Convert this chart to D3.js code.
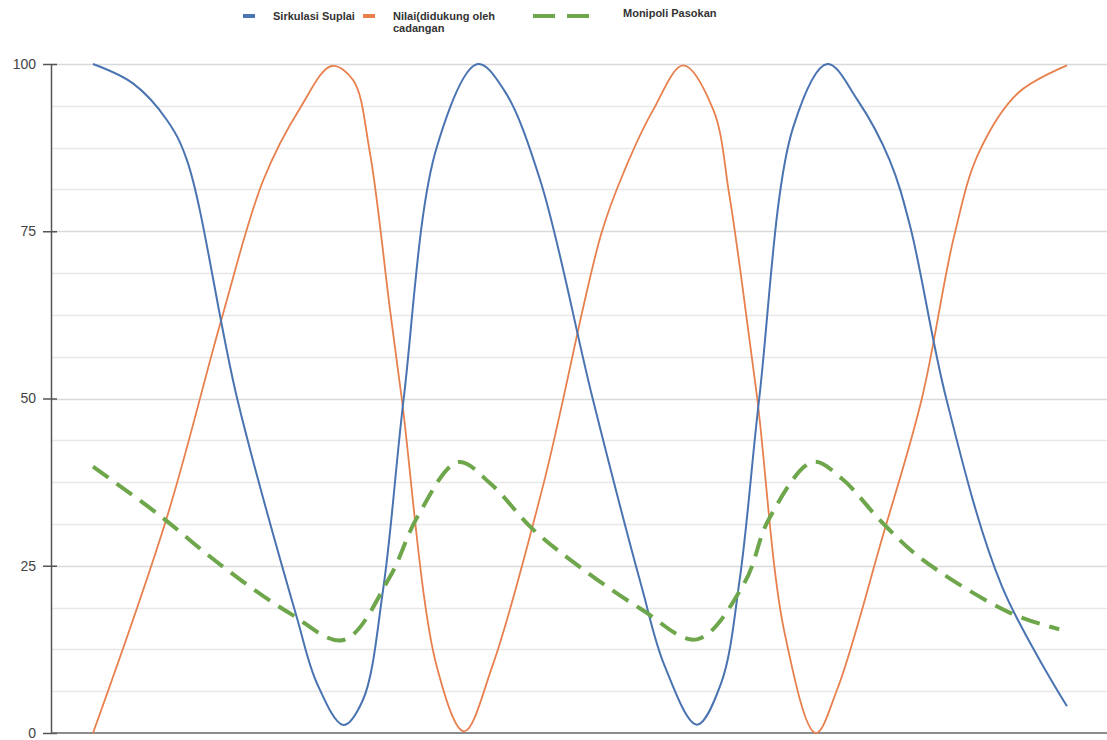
<!DOCTYPE html>
<html>
<head>
<meta charset="utf-8">
<script src="https://cdn.jsdelivr.net/npm/d3@7"></script>
<style>
  html, body { margin: 0; padding: 0; background: #fff; }
  svg { display: block; }
</style>
</head>
<body>
<svg id="chart" width="1107" height="740"></svg>
<script>
  'use strict';

  // series labels and colours
  var seriesNames = ['Sirkulasi Suplai', 'Nilai(didukung oleh\ncadangan', 'Monipoli Pasokan'];
  var seriesColors = ['#4a74b1', '#e8804e', '#6ea64b'];

  // x positions along the span (0..100), with values
  var supplyX = [0, 4.1, 7.6, 9.65, 14.8, 20.9, 23.0, 25.7, 27.7, 29.8, 31.9, 35.3, 39.5,
                 42.2, 45.9, 51.3, 56.3, 58.7, 62.0, 64.5, 66.4, 68.4, 71.9, 75.4,
                 78.5, 81.8, 83.9, 87.6, 93.3, 100];
  var supplyY = [100, 97.1, 91.6, 85.6, 50, 17.4, 7.4, 1.2, 4.9, 21.6, 50, 87.6, 100,
                 96.1, 82.7, 50, 22, 10, 1.25, 7.5, 23, 50, 90.6, 100,
                 94.6, 85.6, 75.7, 50, 22, 4];

  var valueX = [0, 7.6, 13.2, 17.5, 21.3, 24.5, 26.7, 28.4, 30.5, 31.7, 35.3, 38.1, 41.0,
                46.3, 52.2, 54.6, 57.5, 60.6, 63.7, 65.3, 66.5, 68.2, 71.0, 74.2, 76.4,
                81.0, 85.1, 88.4, 90.9, 95.0, 100];
  var valueY = [0, 32.3, 61.9, 82.7, 93.5, 99.7, 97.6, 87, 63.2, 50, 9.9, 0.25, 10,
                37.5, 74.7, 84.2, 93.1, 99.8, 93.1, 80.7, 68.7, 50, 15, 0, 6.5,
                29, 50, 74.2, 86.6, 95.7, 99.8];

  var monopolyX = [0, 6.6, 13.3, 20.2, 25.7, 30.5, 33.3, 37.5, 40.8, 45.2, 50.0,
                   56.3, 62.0, 66.9, 69.4, 73.9, 76.9, 81.0, 85.1, 94.1, 99.2];
  var monopolyY = [39.8, 32.8, 24.9, 17.9, 13.9, 23.4, 32.3, 40.5, 37.3, 30.4, 24.8,
                   18.5, 14, 22.5, 32, 40.5, 38, 31.5, 26, 18, 15.5];

  var yTicks = [0, 25, 50, 75, 100];
  var yMinorStep = 6.25;

  var svg = d3.select('#chart'),
      width = +svg.attr('width'),
      height = +svg.attr('height'),
      margin = { top: 64, right: 0, bottom: 7, left: 51 },
      innerW = width - margin.left - margin.right,
      innerH = height - margin.top - margin.bottom,
      pad = 42;

  var x = d3.scaleLinear().domain([0, 100]).range([pad, innerW - 40]);
  var y = d3.scaleLinear().domain([0, 100]).range([innerH, 0]);

  var g = svg.append('g')
    .attr('transform', 'translate(' + margin.left + ',' + margin.top + ')');

  // grid lines
  g.append('g')
    .attr('class', 'grid')
    .selectAll('line')
    .data(d3.range(yMinorStep, 100 + 0.001, yMinorStep))
    .enter().append('line')
    .attr('x1', 0)
    .attr('x2', innerW)
    .attr('y1', function(d) { return Math.round(y(d)) + 0.5; })
    .attr('y2', function(d) { return Math.round(y(d)) + 0.5; })
    .attr('stroke', function(d) { return d % 25 === 0 ? '#d9d9d9' : '#e8e8e8'; })
    .attr('stroke-width', 1.5);

  // y axis
  var yAxis = d3.axisLeft(y)
    .tickValues(yTicks)
    .tickSizeInner(8)
    .tickSizeOuter(0)
    .tickPadding(7);

  var ya = g.append('g').call(yAxis);
  ya.select('.domain').attr('stroke', '#555').attr('stroke-width', 1.5);
  ya.selectAll('.tick line').attr('stroke', '#555').attr('stroke-width', 1.5)
    .attr('x2', -8).attr('x1', 6);
  ya.selectAll('.tick text')
    .attr('fill', '#444')
    .style('font-family', '"Liberation Sans", Arial, sans-serif')
    .style('font-size', '14px');

  // x axis baseline
  g.append('line')
    .attr('x1', 0).attr('x2', innerW)
    .attr('y1', y(0)).attr('y2', y(0))
    .attr('stroke', '#666').attr('stroke-width', 1.5);

  var line = d3.line()
    .x(function(d) { return x(d[0]); })
    .y(function(d) { return y(d[1]); })
    .curve(d3.curveCatmullRom.alpha(0.5));

  function pairs(xs, ys) {
    return xs.map(function(v, i) { return [v, ys[i]]; });
  }

  g.append('path')
    .datum(pairs(valueX, valueY))
    .attr('fill', 'none')
    .attr('stroke', seriesColors[1])
    .attr('stroke-width', 1.8)
    .attr('d', line);

  g.append('path')
    .datum(pairs(supplyX, supplyY))
    .attr('fill', 'none')
    .attr('stroke', seriesColors[0])
    .attr('stroke-width', 2)
    .attr('d', line);

  g.append('path')
    .datum(pairs(monopolyX, monopolyY))
    .attr('fill', 'none')
    .attr('stroke', seriesColors[2])
    .attr('stroke-width', 4)
    .attr('stroke-dasharray', '19,10')
    .attr('d', line);

  // legend
  var legend = svg.append('g').attr('class', 'legend')
    .style('font-family', '"Liberation Sans", Arial, sans-serif')
    .style('font-size', '11px')
    .style('font-weight', 'bold')
    .attr('fill', '#333');

  var legendItems = [
    { sx: 243, sw: 12, tx: 273, ty: 20, dash: null, width: 4 },
    { sx: 363, sw: 12, tx: 393, ty: 20, dash: null, width: 4 },
    { sx: 533, sw: 57, tx: 623, ty: 17, dash: '22,12', width: 4 }
  ];

  legendItems.forEach(function(item, i) {
    legend.append('line')
      .attr('x1', item.sx).attr('x2', item.sx + item.sw)
      .attr('y1', 16).attr('y2', 16)
      .attr('stroke', seriesColors[i])
      .attr('stroke-width', item.width)
      .attr('stroke-dasharray', item.dash);
    var text = legend.append('text')
      .attr('x', item.tx).attr('y', item.ty);
    seriesNames[i].split('\n').forEach(function(part, j) {
      text.append('tspan')
        .attr('x', item.tx)
        .attr('dy', j === 0 ? 0 : 12)
        .text(part);
    });
  });
</script>
</body>
</html>
